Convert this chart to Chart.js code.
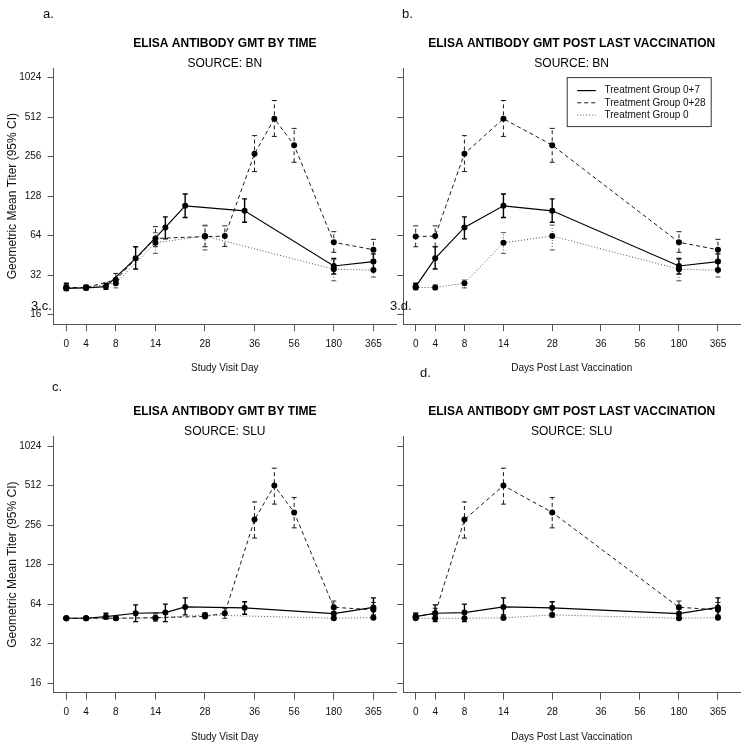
<!DOCTYPE html>
<html>
<head>
<meta charset="utf-8">
<title>ELISA antibody GMT</title>
<script src="https://cdn.jsdelivr.net/npm/chart.js@4.4.1/dist/chart.umd.min.js"></script>
<style>
  body { margin: 0; background: #fff; font-family: 'Liberation Sans', Arial, sans-serif; }
  #page { position: relative; width: 747px; height: 750px; overflow: hidden; background: #fff; }
  canvas { position: absolute; }
  .tag { position: absolute; font-size: 13px; line-height: 13px; color: #111; white-space: nowrap; }
</style>
</head>
<body>
<div id="page">
  <canvas id="pa" width="400" height="375" style="left:0;top:0"></canvas>
  <canvas id="pb" width="367" height="375" style="left:380px;top:0"></canvas>
  <canvas id="pc" width="400" height="375" style="left:0;top:375px"></canvas>
  <canvas id="pd" width="367" height="375" style="left:380px;top:375px"></canvas>
  <div class="tag" style="left:43px;top:7px">a.</div>
  <div class="tag" style="left:402px;top:7px">b.</div>
  <div class="tag" style="left:52px;top:380px">c.</div>
  <div class="tag" style="left:420px;top:366px">d.</div>
  <div class="tag" style="left:31px;top:299px">3.c.</div>
  <div class="tag" style="left:390px;top:299px">3.d.</div>
</div>
<script>
// x axis: visit positions and their labels (days)
const xTickPos = [0, 2, 5, 9, 14, 19, 23, 27, 31];
const xTickLabels = ['0', '4', '8', '14', '28', '36', '56', '180', '365'];
const yTicks = [16, 32, 64, 128, 256, 512, 1024];
const groupNames = ['Treatment Group 0+7', 'Treatment Group 0+28', 'Treatment Group 0'];

// visit positions on the study-day axis, per group
const timePos07 = [0, 2, 4, 7, 10, 12, 18, 27, 31];
const timePos028 = [0, 2, 5, 9, 14, 16, 19, 21, 23, 27, 31];
const timePos0 = [0, 2, 5, 9, 14, 27, 31];
// post last vaccination visits: days 0, 4, 8, 14, 28, 180, 365
const postPos = [0, 2, 5, 9, 14, 27, 31];

// a. source BN, by study day
const bnTime07 = [25.4, 25.6, 26.2, 43, 74, 108, 99, 37.6, 40.6];
const bnTime07Lo = [24.4, 24.9, 25, 35.7, 60.5, 88, 81, 32.7, 35.5];
const bnTime07Hi = [27.8, 26.6, 27.8, 52.7, 89, 133, 122, 43, 46.5];
const bnTime028 = [25.8, 25.8, 29.5, 61, 63, 63.5, 269, 498, 313, 57, 50];
const bnTime028Lo = [24.6, 24.9, 27, 52.7, 52.7, 53, 197, 365, 232, 47.8, 42];
const bnTime028Hi = [27.2, 26.7, 33, 75, 76, 76, 370, 685, 420, 68.6, 60];
const bnTime0 = [25.8, 25.8, 27.8, 56.5, 63.6, 35.5, 35];
const bnTime0Lo = [24.8, 24.8, 25.6, 46.9, 49.8, 29, 31];
const bnTime0Hi = [27, 27, 29.4, 67.5, 77, 42, 39.4];

// b. source BN, post last vaccination
const bnPost07 = [26.2, 43, 74, 108, 99, 37.6, 40.6];
const bnPost07Lo = [25, 35.7, 60.5, 88, 81, 32.7, 35.5];
const bnPost07Hi = [27.8, 52.7, 89, 133, 122, 43, 46.5];
const bnPost028 = [63, 63.5, 269, 498, 313, 57, 50];
const bnPost028Lo = [52.7, 53, 197, 365, 232, 47.8, 42];
const bnPost028Hi = [76, 76, 370, 685, 420, 68.6, 60];
const bnPost0 = [25.8, 25.8, 27.8, 56.5, 63.6, 35.5, 35];
const bnPost0Lo = [24.8, 24.8, 25.6, 46.9, 49.8, 29, 31];
const bnPost0Hi = [27, 27, 29.4, 67.5, 77, 42, 39.4];

// c. source SLU, by study day
const sluTime07 = [50, 50, 51.4, 54.6, 55.2, 61, 60, 54.2, 60.5];
const sluTime07Lo = [49.3, 49.3, 49.2, 47.1, 47.1, 53, 53.6, 50.5, 51];
const sluTime07Hi = [50.7, 50.7, 54.6, 63.2, 64, 71.5, 66.8, 59, 71.5];
const sluTime028 = [50, 50, 50, 50.5, 51.6, 54.6, 282, 512, 320, 60.6, 58];
const sluTime028Lo = [49.3, 49.3, 49.3, 47.5, 50.3, 50, 204, 370, 244, 56, 53];
const sluTime028Hi = [50.7, 50.7, 50.9, 54, 54.6, 59.6, 385, 695, 416, 67.6, 66];
const sluTime0 = [50, 50, 50, 50.3, 53, 50, 50.5];
const sluTime0Lo = [49.4, 49.4, 49.4, 49.3, 51.2, 49.3, 49.5];
const sluTime0Hi = [50.6, 50.6, 50.6, 51.5, 55, 50.8, 52];

// d. source SLU, post last vaccination
const sluPost07 = [51.4, 54.6, 55.2, 61, 60, 54.2, 60.5];
const sluPost07Lo = [49.2, 47.1, 47.1, 53, 53.6, 50.5, 51];
const sluPost07Hi = [54.6, 63.2, 64, 71.5, 66.8, 59, 71.5];
const sluPost028 = [51.6, 54.6, 282, 512, 320, 60.6, 58];
const sluPost028Lo = [50.3, 50, 204, 370, 244, 56, 53];
const sluPost028Hi = [54.6, 59.6, 385, 695, 416, 67.6, 66];
const sluPost0 = [50, 50, 50, 50.3, 53, 50, 50.5];
const sluPost0Lo = [49.4, 49.4, 49.4, 49.3, 51.2, 49.3, 49.5];
const sluPost0Hi = [50.6, 50.6, 50.6, 51.5, 55, 50.8, 52];

Chart.defaults.font.family = "'Liberation Sans', Arial, sans-serif";
Chart.defaults.color = '#111';

const lineStyles = [
  { color: '#000', width: 1.2, dash: [], bar: 1.4 },
  { color: '#1a1a1a', width: 1, dash: [4, 3], bar: 1 },
  { color: '#555', width: 1, dash: [1, 2], bar: 1 }
];

function series(g, pos, vals, lo, hi) {
  const st = lineStyles[g];
  return {
    label: groupNames[g],
    data: pos.map((p, i) => ({ x: p, y: vals[i] })),
    lo: lo, hi: hi,
    borderColor: st.color,
    borderWidth: st.width,
    borderDash: st.dash,
    barWidth: st.bar,
    tension: 0,
    pointRadius: 3,
    pointBackgroundColor: '#000',
    pointBorderColor: '#000',
    pointBorderWidth: 0
  };
}

// confidence interval whiskers
const errorBars = {
  id: 'errorBars',
  beforeDatasetsDraw(chart) {
    const ctx = chart.ctx, xs = chart.scales.x, ys = chart.scales.y;
    chart.data.datasets.forEach(ds => {
      ctx.save();
      ctx.strokeStyle = ds.borderColor;
      ctx.lineWidth = ds.barWidth;
      ds.data.forEach((p, i) => {
        const x = xs.getPixelForValue(p.x);
        const y1 = ys.getPixelForValue(ds.lo[i]);
        const y2 = ys.getPixelForValue(ds.hi[i]);
        ctx.setLineDash(ds.borderDash);
        ctx.beginPath(); ctx.moveTo(x, y1); ctx.lineTo(x, y2); ctx.stroke();
        ctx.setLineDash([]);
        ctx.beginPath();
        ctx.moveTo(x - 2.5, y1); ctx.lineTo(x + 2.5, y1);
        ctx.moveTo(x - 2.5, y2); ctx.lineTo(x + 2.5, y2);
        ctx.stroke();
      });
      ctx.restore();
    });
  }
};

// boxed legend in the top right of the plot
const boxLegend = {
  id: 'boxLegend',
  afterDraw(chart, args, opts) {
    if (!opts.show) return;
    const ca = chart.chartArea, ctx = chart.ctx;
    const w = 144, h = 49;
    const left = ca.right - 29 - w, top = ca.top + 9.5;
    ctx.save();
    ctx.strokeStyle = '#333';
    ctx.lineWidth = 1;
    ctx.strokeRect(left, top, w, h);
    ctx.font = "10px 'Liberation Sans', Arial, sans-serif";
    ctx.textBaseline = 'middle';
    ctx.fillStyle = '#111';
    chart.data.datasets.forEach((ds, i) => {
      const y = top + 13 + i * 12.2;
      ctx.strokeStyle = ds.borderColor;
      ctx.lineWidth = ds.borderWidth;
      ctx.setLineDash(ds.borderDash);
      ctx.beginPath(); ctx.moveTo(left + 10, y); ctx.lineTo(left + 28.6, y); ctx.stroke();
      ctx.setLineDash([]);
      ctx.fillText(ds.label, left + 37.3, y);
    });
    ctx.restore();
  }
};

function panel(id, opt) {
  new Chart(document.getElementById(id), {
    type: 'line',
    data: { datasets: opt.series },
    options: {
      responsive: false,
      animation: false,
      devicePixelRatio: 1,
      layout: { padding: opt.pad },
      plugins: {
        legend: { display: false },
        tooltip: { enabled: false },
        title: {
          display: true, text: opt.title, fullSize: false, color: '#000',
          font: { size: 12, weight: 'bold', lineHeight: 1 },
          padding: { top: 31, bottom: 0 }
        },
        subtitle: {
          display: true, text: opt.source, fullSize: false, color: '#000',
          font: { size: 12, lineHeight: 0.8 },
          padding: { top: 9, bottom: 0 }
        },
        boxLegend: { show: !!opt.legend }
      },
      scales: {
        x: {
          type: 'linear',
          min: -1.28, max: 33.28,
          afterBuildTicks: s => { s.ticks = xTickPos.map(v => ({ value: v })); },
          afterFit: s => { s.height = 50.8; },
          ticks: {
            autoSkip: false, maxRotation: 0, minRotation: 0, padding: 7,
            font: { size: 10 }, color: '#111',
            callback: (v, i) => xTickLabels[i]
          },
          grid: { display: true, drawOnChartArea: false, drawTicks: true, tickLength: 7, color: '#555' },
          border: { display: true, color: '#555', width: 1 },
          title: {
            display: true, text: opt.xTitle, color: '#111',
            font: { size: 10, lineHeight: 1.2 }, padding: { top: 0, bottom: 0.7 }
          }
        },
        y: {
          type: 'logarithmic',
          min: Math.pow(2, 3.76), max: Math.pow(2, 10.24),
          afterBuildTicks: s => { s.ticks = yTicks.map(v => ({ value: v })); },
          afterFit: s => { s.width = opt.yWidth; },
          ticks: {
            display: opt.yLabels, padding: 6.2,
            font: { size: 10 }, color: '#111',
            callback: v => String(v)
          },
          grid: { display: true, drawOnChartArea: false, drawTicks: true, tickLength: 6, color: '#555' },
          border: { display: true, color: '#555', width: 1 },
          title: {
            display: opt.yLabels, text: 'Geometric Mean Titer (95% CI)', color: '#111',
            font: { size: 12, lineHeight: 1.2 }, padding: { top: 5.5, bottom: 0 }
          }
        }
      }
    },
    plugins: [errorBars, boxLegend]
  });
}

panel('pa', {
  title: 'ELISA ANTIBODY GMT BY TIME', source: 'SOURCE: BN', xTitle: 'Study Visit Day',
  pad: { top: 6.5, right: 3, bottom: 0, left: 0 }, yWidth: 53.6, yLabels: true,
  series: [
    series(0, timePos07, bnTime07, bnTime07Lo, bnTime07Hi),
    series(1, timePos028, bnTime028, bnTime028Lo, bnTime028Hi),
    series(2, timePos0, bnTime0, bnTime0Lo, bnTime0Hi)
  ]
});

panel('pb', {
  title: 'ELISA ANTIBODY GMT POST LAST VACCINATION', source: 'SOURCE: BN', xTitle: 'Days Post Last Vaccination',
  pad: { top: 6.5, right: 6.8, bottom: 0, left: 0 }, yWidth: 23.2, yLabels: false, legend: true,
  series: [
    series(0, postPos, bnPost07, bnPost07Lo, bnPost07Hi),
    series(1, postPos, bnPost028, bnPost028Lo, bnPost028Hi),
    series(2, postPos, bnPost0, bnPost0Lo, bnPost0Hi)
  ]
});

panel('pc', {
  title: 'ELISA ANTIBODY GMT BY TIME', source: 'SOURCE: SLU', xTitle: 'Study Visit Day',
  pad: { top: 0, right: 3, bottom: 6.5, left: 0 }, yWidth: 53.6, yLabels: true,
  series: [
    series(0, timePos07, sluTime07, sluTime07Lo, sluTime07Hi),
    series(1, timePos028, sluTime028, sluTime028Lo, sluTime028Hi),
    series(2, timePos0, sluTime0, sluTime0Lo, sluTime0Hi)
  ]
});

panel('pd', {
  title: 'ELISA ANTIBODY GMT POST LAST VACCINATION', source: 'SOURCE: SLU', xTitle: 'Days Post Last Vaccination',
  pad: { top: 0, right: 6.8, bottom: 6.5, left: 0 }, yWidth: 23.2, yLabels: false,
  series: [
    series(0, postPos, sluPost07, sluPost07Lo, sluPost07Hi),
    series(1, postPos, sluPost028, sluPost028Lo, sluPost028Hi),
    series(2, postPos, sluPost0, sluPost0Lo, sluPost0Hi)
  ]
});
</script>
</body>
</html>
